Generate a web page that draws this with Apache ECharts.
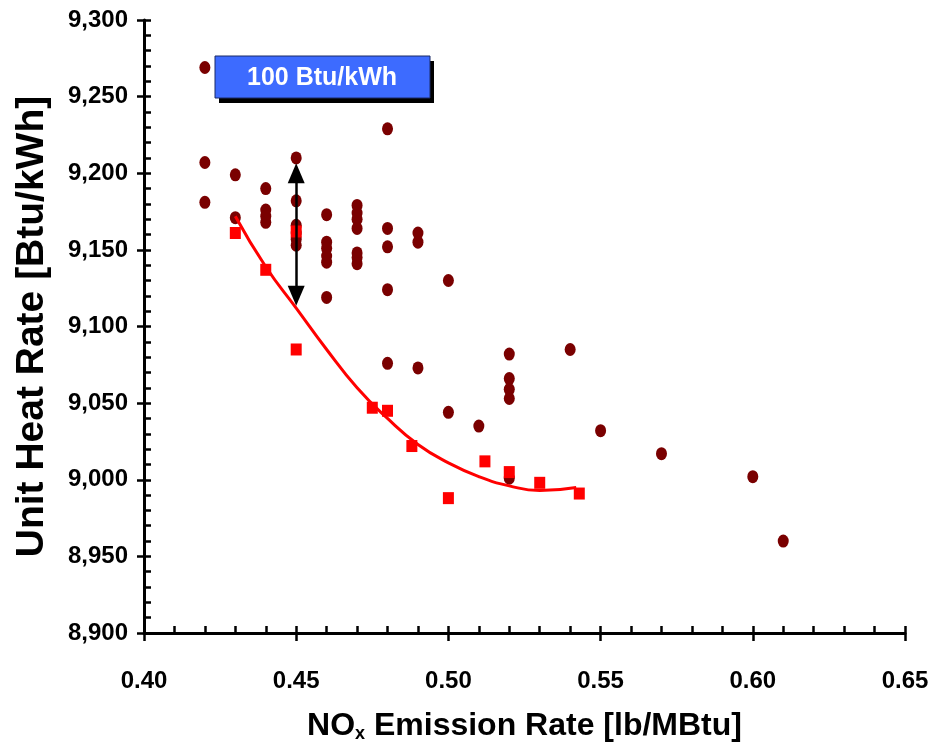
<!DOCTYPE html>
<html>
<head>
<meta charset="utf-8">
<script src="https://cdn.jsdelivr.net/npm/echarts@6/dist/echarts.min.js"></script>
<style>
  html, body { margin: 0; padding: 0; background: #fff; }
  #chart { width: 946px; height: 753px; }
</style>
</head>
<body>
<div id="chart"></div>
<script>
  // axis ranges
  const xTicks = [0.40, 0.45, 0.50, 0.55, 0.60, 0.65];
  const yTicks = [8900, 8950, 9000, 9050, 9100, 9150, 9200, 9250, 9300];

  // all unit data (dark red dots) [NOx, heat rate]
  const unitPoints = [
    [0.42, 9269], [0.42, 9207], [0.42, 9181],
    [0.43, 9199], [0.43, 9171],
    [0.44, 9190], [0.44, 9176], [0.44, 9172], [0.44, 9168],
    [0.45, 9210], [0.45, 9182], [0.45, 9166], [0.45, 9161], [0.45, 9157], [0.45, 9153],
    [0.46, 9173], [0.46, 9155], [0.46, 9151], [0.46, 9146], [0.46, 9142], [0.46, 9119],
    [0.47, 9179], [0.47, 9174], [0.47, 9170], [0.47, 9164], [0.47, 9148], [0.47, 9145], [0.47, 9141],
    [0.48, 9229], [0.48, 9164], [0.48, 9152], [0.48, 9124], [0.48, 9076],
    [0.49, 9161], [0.49, 9155], [0.49, 9073],
    [0.50, 9130], [0.50, 9044],
    [0.51, 9035],
    [0.52, 9082], [0.52, 9066], [0.52, 9059], [0.52, 9053], [0.52, 9001],
    [0.54, 9085],
    [0.55, 9032],
    [0.57, 9017],
    [0.60, 9002],
    [0.61, 8960]
  ];

  // best points (red squares)
  const bestPoints = [
    [0.43, 9161], [0.44, 9137], [0.45, 9162], [0.45, 9085],
    [0.475, 9047], [0.48, 9045], [0.488, 9022], [0.50, 8988],
    [0.512, 9012], [0.52, 9005], [0.53, 8998], [0.543, 8991]
  ];

  // red curve
  const curveX = [0.43, 0.44, 0.45, 0.46, 0.47, 0.48, 0.49, 0.50, 0.51, 0.52, 0.53, 0.542];
  const curveY = [9172, 9139, 9112, 9085, 9060, 9040, 9023, 9011, 9002, 8996, 8993, 8995];

  // double arrow (triangle centres)
  const arrowX = 0.45;
  const arrowEnds = [9200, 9120];
  const boxText = '100 Btu/kWh';

  const font = "'Liberation Sans', Arial, sans-serif";
  const chart = echarts.init(document.getElementById('chart'));

  const baseX = {
    type: 'value', position: 'bottom', min: xTicks[0], max: xTicks[xTicks.length - 1], interval: 0.05
  };
  const baseY = {
    type: 'value', position: 'left', min: yTicks[0], max: yTicks[yTicks.length - 1], interval: 50
  };

  const option = {
    animation: false,
    backgroundColor: '#fff',
    grid: { left: 144, right: 41, top: 20, bottom: 120 },
    xAxis: [
      Object.assign({}, baseX, {
        name: 'NO{sub|x} Emission Rate [lb/MBtu]',
        nameLocation: 'middle',
        nameGap: 76,
        nameTextStyle: {
          fontFamily: font, fontWeight: 'bold', fontSize: 32, color: '#000',
          rich: { sub: { fontFamily: font, fontWeight: 'bold', fontSize: 18, color: '#000', verticalAlign: 'bottom', padding: [16, 0, 0, 0] } }
        },
        axisLine: { lineStyle: { color: '#000', width: 3 } },
        axisTick: { inside: true, length: 7, lineStyle: { color: '#000', width: 2.5 } },
        minorTick: { show: true, splitNumber: 5, length: 7, lineStyle: { color: '#000', width: 2.5 } },
        axisLabel: {
          margin: 36, color: '#000', fontFamily: font, fontWeight: 'bold', fontSize: 24,
          formatter: v => v.toFixed(2)
        },
        splitLine: { show: false }
      }),
      Object.assign({}, baseX, {
        axisLine: { show: false },
        axisTick: { inside: false, length: 8, lineStyle: { color: '#000', width: 2.5 } },
        axisLabel: { show: false },
        splitLine: { show: false }
      })
    ],
    yAxis: [
      Object.assign({}, baseY, {
        name: 'Unit Heat Rate [Btu/kWh]',
        nameLocation: 'middle',
        nameGap: 92,
        nameTextStyle: { fontFamily: font, fontWeight: 'bold', fontSize: 39, color: '#000' },
        axisLine: { lineStyle: { color: '#000', width: 3 } },
        axisTick: { inside: true, length: 7, lineStyle: { color: '#000', width: 2.5 } },
        minorTick: { show: true, splitNumber: 5, length: 7, lineStyle: { color: '#000', width: 2.5 } },
        axisLabel: {
          margin: 16, color: '#000', fontFamily: font, fontWeight: 'bold', fontSize: 24,
          formatter: v => v.toLocaleString('en-US')
        },
        splitLine: { show: false }
      }),
      Object.assign({}, baseY, {
        axisLine: { show: false },
        axisTick: { inside: false, length: 7, lineStyle: { color: '#000', width: 2.5 } },
        axisLabel: { show: false },
        splitLine: { show: false }
      })
    ],
    series: [
      {
        type: 'scatter',
        data: unitPoints,
        symbol: 'circle',
        symbolSize: [11, 13],
        itemStyle: { color: '#7a0000', opacity: 1 },
        z: 2
      },
      {
        type: 'line',
        data: curveX.map((x, i) => [x, curveY[i]]),
        smooth: true,
        showSymbol: false,
        lineStyle: { color: '#ff0000', width: 3 },
        z: 3
      },
      {
        type: 'scatter',
        data: bestPoints,
        symbol: 'rect',
        symbolSize: [11, 12],
        itemStyle: { color: '#ff0000', opacity: 1 },
        z: 4
      },
      {
        type: 'scatter',
        data: [],
        z: 5,
        markLine: {
          silent: true,
          symbol: ['triangle', 'triangle'],
          symbolSize: [17, 20],
          label: { show: false },
          itemStyle: { color: '#000' },
          lineStyle: { color: '#000', width: 2.5, type: 'solid' },
          data: [[{ coord: [arrowX, arrowEnds[0]] }, { coord: [arrowX, arrowEnds[1]] }]]
        }
      }
    ],
    graphic: [
      {
        type: 'rect',
        shape: { x: 219, y: 61, width: 215, height: 42 },
        style: { fill: '#000' },
        z: 10
      },
      {
        type: 'rect',
        shape: { x: 215, y: 56, width: 215, height: 42 },
        style: { fill: '#3d6bff', stroke: '#1a2a66', lineWidth: 1 },
        z: 11
      },
      {
        type: 'text',
        x: 322, y: 78,
        style: {
          text: boxText, fill: '#fff', fontFamily: font, fontWeight: 'bold', fontSize: 25,
          align: 'center', verticalAlign: 'middle'
        },
        z: 12
      }
    ]
  };

  chart.setOption(option);
</script>
</body>
</html>
